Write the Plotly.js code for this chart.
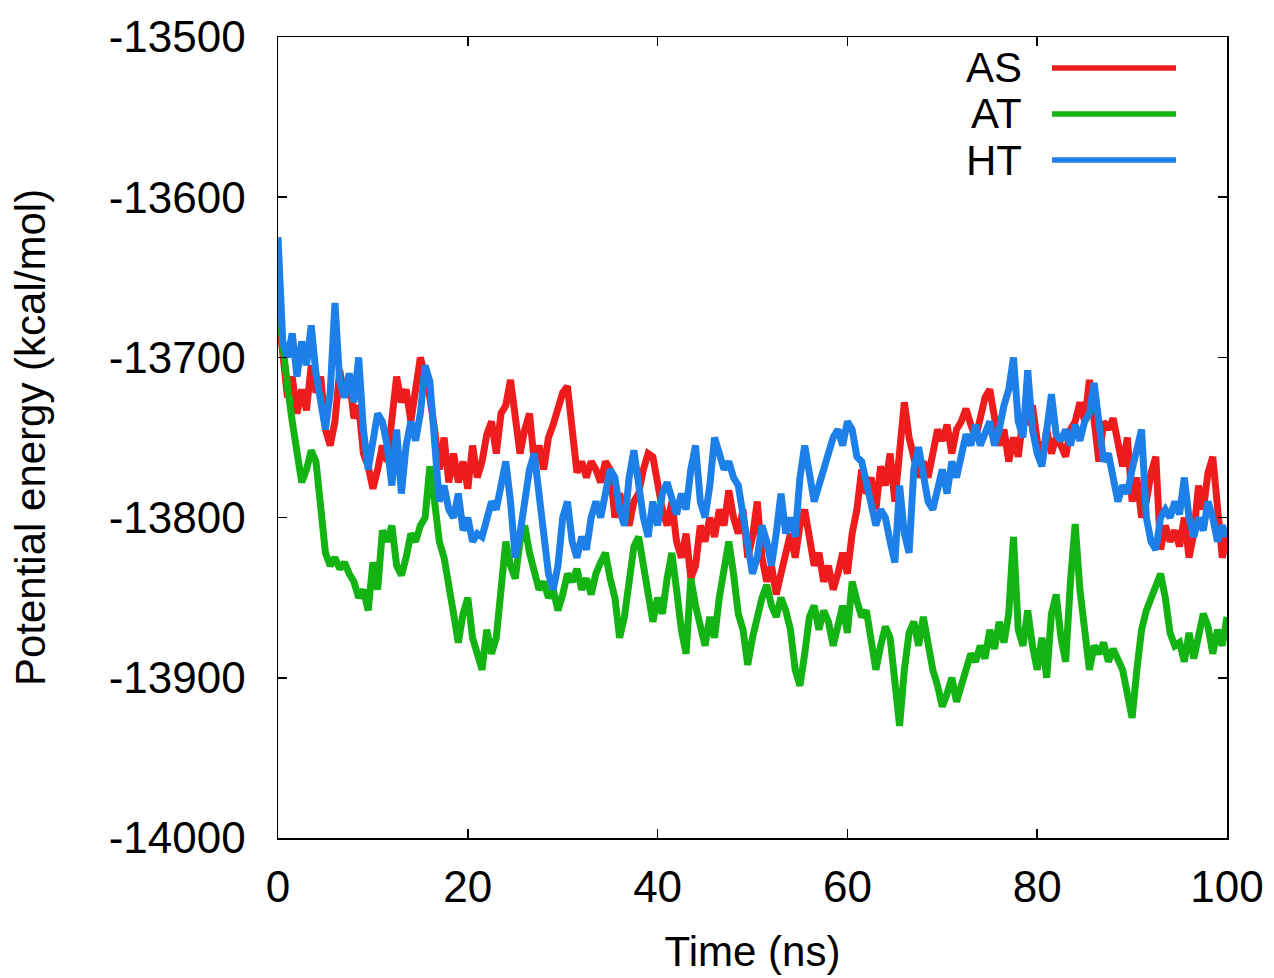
<!DOCTYPE html>
<html>
<head>
<meta charset="utf-8">
<script src="https://cdn.plot.ly/plotly-3.0.1.min.js"></script>
<style>
  html, body { margin: 0; padding: 0; background: #ffffff; }
  #chart { width: 1274px; height: 978px; }
</style>
</head>
<body>
<div id="chart"></div>
<script>
// Time axis (ns), 0.5 ns steps
const time = [];
for (let i = 0; i <= 200; i++) time.push(i * 0.5);

const seriesNames = ["AS", "AT", "HT"];
const seriesColors = ["#ee1c1c", "#14b314", "#1c80e8"];

// Potential energy (kcal/mol)
const AS = [
-13670,-13700,-13725,-13712,-13735,-13720,-13733,-13705,-13722,-13712,
-13745,-13755,-13740,-13708,-13725,-13712,-13738,-13730,-13760,-13768,
-13782,-13770,-13755,-13765,-13740,-13712,-13728,-13720,-13740,-13718,
-13700,-13712,-13725,-13745,-13770,-13750,-13778,-13760,-13778,-13765,
-13782,-13755,-13775,-13765,-13748,-13740,-13760,-13735,-13730,-13714,
-13740,-13760,-13745,-13735,-13765,-13755,-13770,-13750,-13742,-13730,
-13722,-13718,-13745,-13772,-13765,-13775,-13765,-13770,-13778,-13765,
-13770,-13800,-13785,-13795,-13805,-13790,-13785,-13770,-13760,-13762,
-13780,-13795,-13805,-13790,-13815,-13825,-13810,-13838,-13830,-13805,
-13815,-13800,-13812,-13795,-13805,-13783,-13800,-13810,-13795,-13825,
-13812,-13790,-13825,-13840,-13830,-13848,-13835,-13820,-13810,-13825,
-13805,-13795,-13815,-13830,-13822,-13840,-13830,-13845,-13835,-13822,
-13835,-13810,-13795,-13770,-13785,-13775,-13795,-13768,-13780,-13760,
-13790,-13760,-13728,-13750,-13762,-13775,-13765,-13775,-13760,-13745,
-13752,-13742,-13760,-13745,-13740,-13732,-13742,-13750,-13738,-13725,
-13720,-13735,-13755,-13745,-13765,-13750,-13762,-13738,-13740,-13730,
-13752,-13765,-13745,-13760,-13750,-13755,-13762,-13745,-13740,-13728,
-13740,-13714,-13742,-13765,-13740,-13745,-13738,-13755,-13768,-13750,
-13790,-13775,-13800,-13790,-13772,-13762,-13820,-13805,-13815,-13808,
-13818,-13800,-13825,-13810,-13780,-13795,-13772,-13762,-13790,-13825,
-13812
];

const AT = [
-13665,-13695,-13718,-13740,-13758,-13778,-13770,-13758,-13765,-13790,
-13822,-13830,-13825,-13832,-13828,-13835,-13840,-13850,-13845,-13858,
-13828,-13845,-13808,-13815,-13805,-13830,-13836,-13825,-13810,-13815,
-13805,-13800,-13768,-13790,-13815,-13825,-13840,-13860,-13878,-13860,
-13850,-13875,-13885,-13895,-13870,-13885,-13875,-13840,-13815,-13830,
-13838,-13815,-13805,-13822,-13835,-13845,-13840,-13850,-13845,-13858,
-13848,-13835,-13840,-13832,-13845,-13838,-13848,-13835,-13828,-13822,
-13838,-13850,-13875,-13862,-13840,-13818,-13812,-13830,-13845,-13865,
-13850,-13860,-13838,-13822,-13845,-13870,-13885,-13838,-13855,-13868,
-13880,-13862,-13875,-13850,-13830,-13815,-13835,-13860,-13870,-13892,
-13875,-13860,-13850,-13842,-13855,-13862,-13850,-13858,-13870,-13895,
-13905,-13885,-13862,-13855,-13870,-13858,-13865,-13880,-13868,-13855,
-13872,-13840,-13852,-13862,-13858,-13880,-13895,-13880,-13868,-13875,
-13905,-13930,-13895,-13872,-13865,-13880,-13862,-13878,-13895,-13905,
-13918,-13910,-13900,-13915,-13905,-13895,-13885,-13890,-13880,-13888,
-13870,-13882,-13865,-13878,-13860,-13812,-13870,-13880,-13858,-13880,
-13895,-13875,-13900,-13860,-13848,-13875,-13890,-13840,-13804,-13845,
-13870,-13895,-13880,-13885,-13878,-13890,-13882,-13888,-13895,-13910,
-13925,-13895,-13870,-13858,-13850,-13845,-13835,-13850,-13872,-13880,
-13878,-13890,-13872,-13888,-13875,-13860,-13868,-13885,-13870,-13880,
-13862
];

const HT = [
-13625,-13690,-13700,-13685,-13712,-13690,-13705,-13680,-13710,-13725,
-13745,-13722,-13666,-13715,-13725,-13710,-13728,-13700,-13745,-13770,
-13752,-13735,-13740,-13755,-13780,-13745,-13785,-13755,-13740,-13752,
-13735,-13705,-13715,-13760,-13790,-13780,-13795,-13800,-13785,-13808,
-13800,-13815,-13810,-13812,-13800,-13790,-13795,-13780,-13765,-13790,
-13825,-13810,-13790,-13770,-13760,-13790,-13810,-13835,-13845,-13830,
-13800,-13790,-13815,-13825,-13812,-13820,-13800,-13790,-13800,-13785,
-13770,-13775,-13795,-13805,-13775,-13758,-13780,-13800,-13812,-13790,
-13805,-13785,-13778,-13790,-13798,-13785,-13795,-13770,-13755,-13790,
-13800,-13780,-13750,-13760,-13770,-13765,-13775,-13780,-13800,-13815,
-13835,-13825,-13805,-13815,-13830,-13810,-13785,-13810,-13800,-13812,
-13775,-13755,-13770,-13790,-13780,-13770,-13760,-13750,-13745,-13755,
-13740,-13745,-13762,-13765,-13778,-13790,-13805,-13795,-13800,-13815,
-13828,-13780,-13810,-13822,-13770,-13756,-13775,-13790,-13795,-13780,
-13770,-13785,-13765,-13775,-13760,-13748,-13755,-13742,-13755,-13748,
-13740,-13755,-13745,-13730,-13720,-13700,-13740,-13750,-13708,-13745,
-13760,-13768,-13745,-13723,-13748,-13752,-13745,-13755,-13742,-13752,
-13740,-13735,-13716,-13745,-13765,-13760,-13775,-13790,-13780,-13785,
-13770,-13755,-13745,-13800,-13815,-13820,-13800,-13795,-13800,-13790,
-13798,-13775,-13800,-13812,-13800,-13808,-13790,-13800,-13815,-13805,
-13812
];

const xTicks = [0, 20, 40, 60, 80, 100];
const xTickText = ["0", "20", "40", "60", "80", "100"];
const yTicks = [-14000, -13900, -13800, -13700, -13600, -13500];
const yTickText = ["-14000", "-13900", "-13800", "-13700", "-13600", "-13500"];
const xTitle = "Time (ns)";
const yTitle = "Potential energy (kcal/mol)";

const FONT = "Liberation Sans, Arial, sans-serif";

const values = [AS, AT, HT];
const traces = values.map((v, i) => ({
  x: time,
  y: v,
  type: "scatter",
  mode: "lines",
  name: seriesNames[i],
  line: { color: seriesColors[i], width: 7 },
  showlegend: false
}));

// Legend drawn gnuplot-style: label on the left, line sample on the right
const legendY = [0.9613, 0.9039, 0.8464];
const annotations = seriesNames.map((n, i) => ({
  xref: "paper", yref: "paper",
  x: 0.786, y: legendY[i],
  xanchor: "right", yanchor: "middle",
  text: n, showarrow: false,
  font: { family: FONT, size: 42, color: "#000" }
}));
const shapes = seriesNames.map((n, i) => ({
  type: "line", xref: "paper", yref: "paper",
  x0: 0.8156, x1: 0.9463, y0: legendY[i], y1: legendY[i],
  line: { color: seriesColors[i], width: 5.5 }
}));

const axisCommon = {
  showline: true, linecolor: "#000", linewidth: 1.5,
  mirror: "allticks", ticks: "inside", ticklen: 9, tickwidth: 1.5, tickcolor: "#000",
  showgrid: false, zeroline: false, tickmode: "array",
  tickfont: { family: FONT, size: 44, color: "#000" }
};

const layout = {
  width: 1274, height: 978,
  margin: { l: 278, r: 47, t: 37, b: 140 },
  paper_bgcolor: "#fff", plot_bgcolor: "#fff",
  showlegend: false,
  xaxis: Object.assign({}, axisCommon, {
    range: [0, 100], tickvals: xTicks, ticktext: xTickText, ticklabelstandoff: 10,
    title: { text: xTitle, font: { family: FONT, size: 42, color: "#000" }, standoff: 26 }
  }),
  yaxis: Object.assign({}, axisCommon, {
    range: [-14000, -13500], tickvals: yTicks, ticktext: yTickText, ticklabelstandoff: 22,
    title: { text: yTitle, font: { family: FONT, size: 42, color: "#000" }, standoff: 50 }
  }),
  annotations: annotations,
  shapes: shapes
};

Plotly.newPlot("chart", traces, layout, { displayModeBar: false, staticPlot: true });
</script>
</body>
</html>
